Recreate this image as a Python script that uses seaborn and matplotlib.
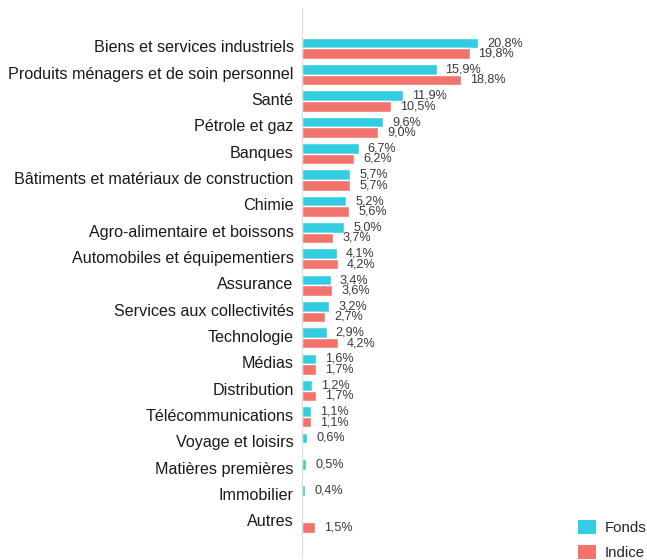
import numpy as np
import pandas as pd
import seaborn as sns
import matplotlib
matplotlib.use("Agg")
import matplotlib.pyplot as plt
import matplotlib.transforms as mtransforms
from matplotlib.patches import Patch

categories = [
    "Biens et services industriels",
    "Produits ménagers et de soin personnel",
    "Santé",
    "Pétrole et gaz",
    "Banques",
    "Bâtiments et matériaux de construction",
    "Chimie",
    "Agro-alimentaire et boissons",
    "Automobiles et équipementiers",
    "Assurance",
    "Services aux collectivités",
    "Technologie",
    "Médias",
    "Distribution",
    "Télécommunications",
    "Voyage et loisirs",
    "Matières premières",
    "Immobilier",
    "Autres",
]
fonds = [20.8, 15.9, 11.9, 9.6, 6.7, 5.7, 5.2, 5.0, 4.1, 3.4, 3.2, 2.9, 1.6, 1.2, 1.1, 0.6, 0.5, 0.4, np.nan]
indice = [19.8, 18.8, 10.5, 9.0, 6.2, 5.7, 5.6, 3.7, 4.2, 3.6, 2.7, 4.2, 1.7, 1.7, 1.1, np.nan, np.nan, np.nan, 1.5]
series = ["Fonds", "Indice"]
colors = {"Fonds": "#33CDE2", "Indice": "#F2736C"}

df = pd.DataFrame({
    "cat": categories * 2,
    "serie": ["Fonds"] * len(categories) + ["Indice"] * len(categories),
    "val": fonds + indice,
})

sns.set_style("white")
plt.rcParams["font.family"] = ["Liberation Sans", "DejaVu Sans"]

fig = plt.figure(figsize=(6.47, 5.6), dpi=100)
ax = fig.add_axes([0.4668, 0.005, 0.4032, 0.981])

sns.barplot(data=df.dropna(), y="cat", x="val", hue="serie", order=categories,
            hue_order=series, palette=colors, orient="h", width=0.8,
            saturation=1, ax=ax, legend=False)

for cont in ax.containers:
    for p in cont.patches:
        w = p.get_width()
        if not np.isfinite(w) or w <= 0:
            continue
        txt = f"{w:.1f}".replace(".", ",") + "%"
        ax.annotate(txt, (w, p.get_y() + p.get_height() / 2), xytext=(6.5, 0),
                    textcoords="offset points", va="center", ha="left",
                    fontsize=9.1, color="#3a3a3a")

ax.set_xlim(0, 30.84)
ax.set_ylim(18 + 1.33, -1.54)
ax.set_xlabel("")
ax.set_ylabel("")
ax.set_xticks([])
ax.tick_params(axis="y", length=0, pad=6, labelsize=11.6, labelcolor="#1a1a1a")
shift = mtransforms.ScaledTranslation(0, 2 / 100, fig.dpi_scale_trans)
for lab in ax.get_yticklabels():
    lab.set_transform(lab.get_transform() + shift)
for s in ["top", "right", "bottom"]:
    ax.spines[s].set_visible(False)
ax.spines["left"].set_color("#dcdcdc")
ax.spines["left"].set_linewidth(0.8)

handles = [Patch(facecolor=colors[s], edgecolor="none") for s in series]
fig.legend(handles, series, loc="lower left", bbox_to_anchor=(0.875, -0.022),
           frameon=False, fontsize=10.8, handlelength=1.2, handleheight=1.0,
           handletextpad=0.6, labelspacing=0.7, borderpad=0.3)

fig.savefig("out.png", dpi=100)
